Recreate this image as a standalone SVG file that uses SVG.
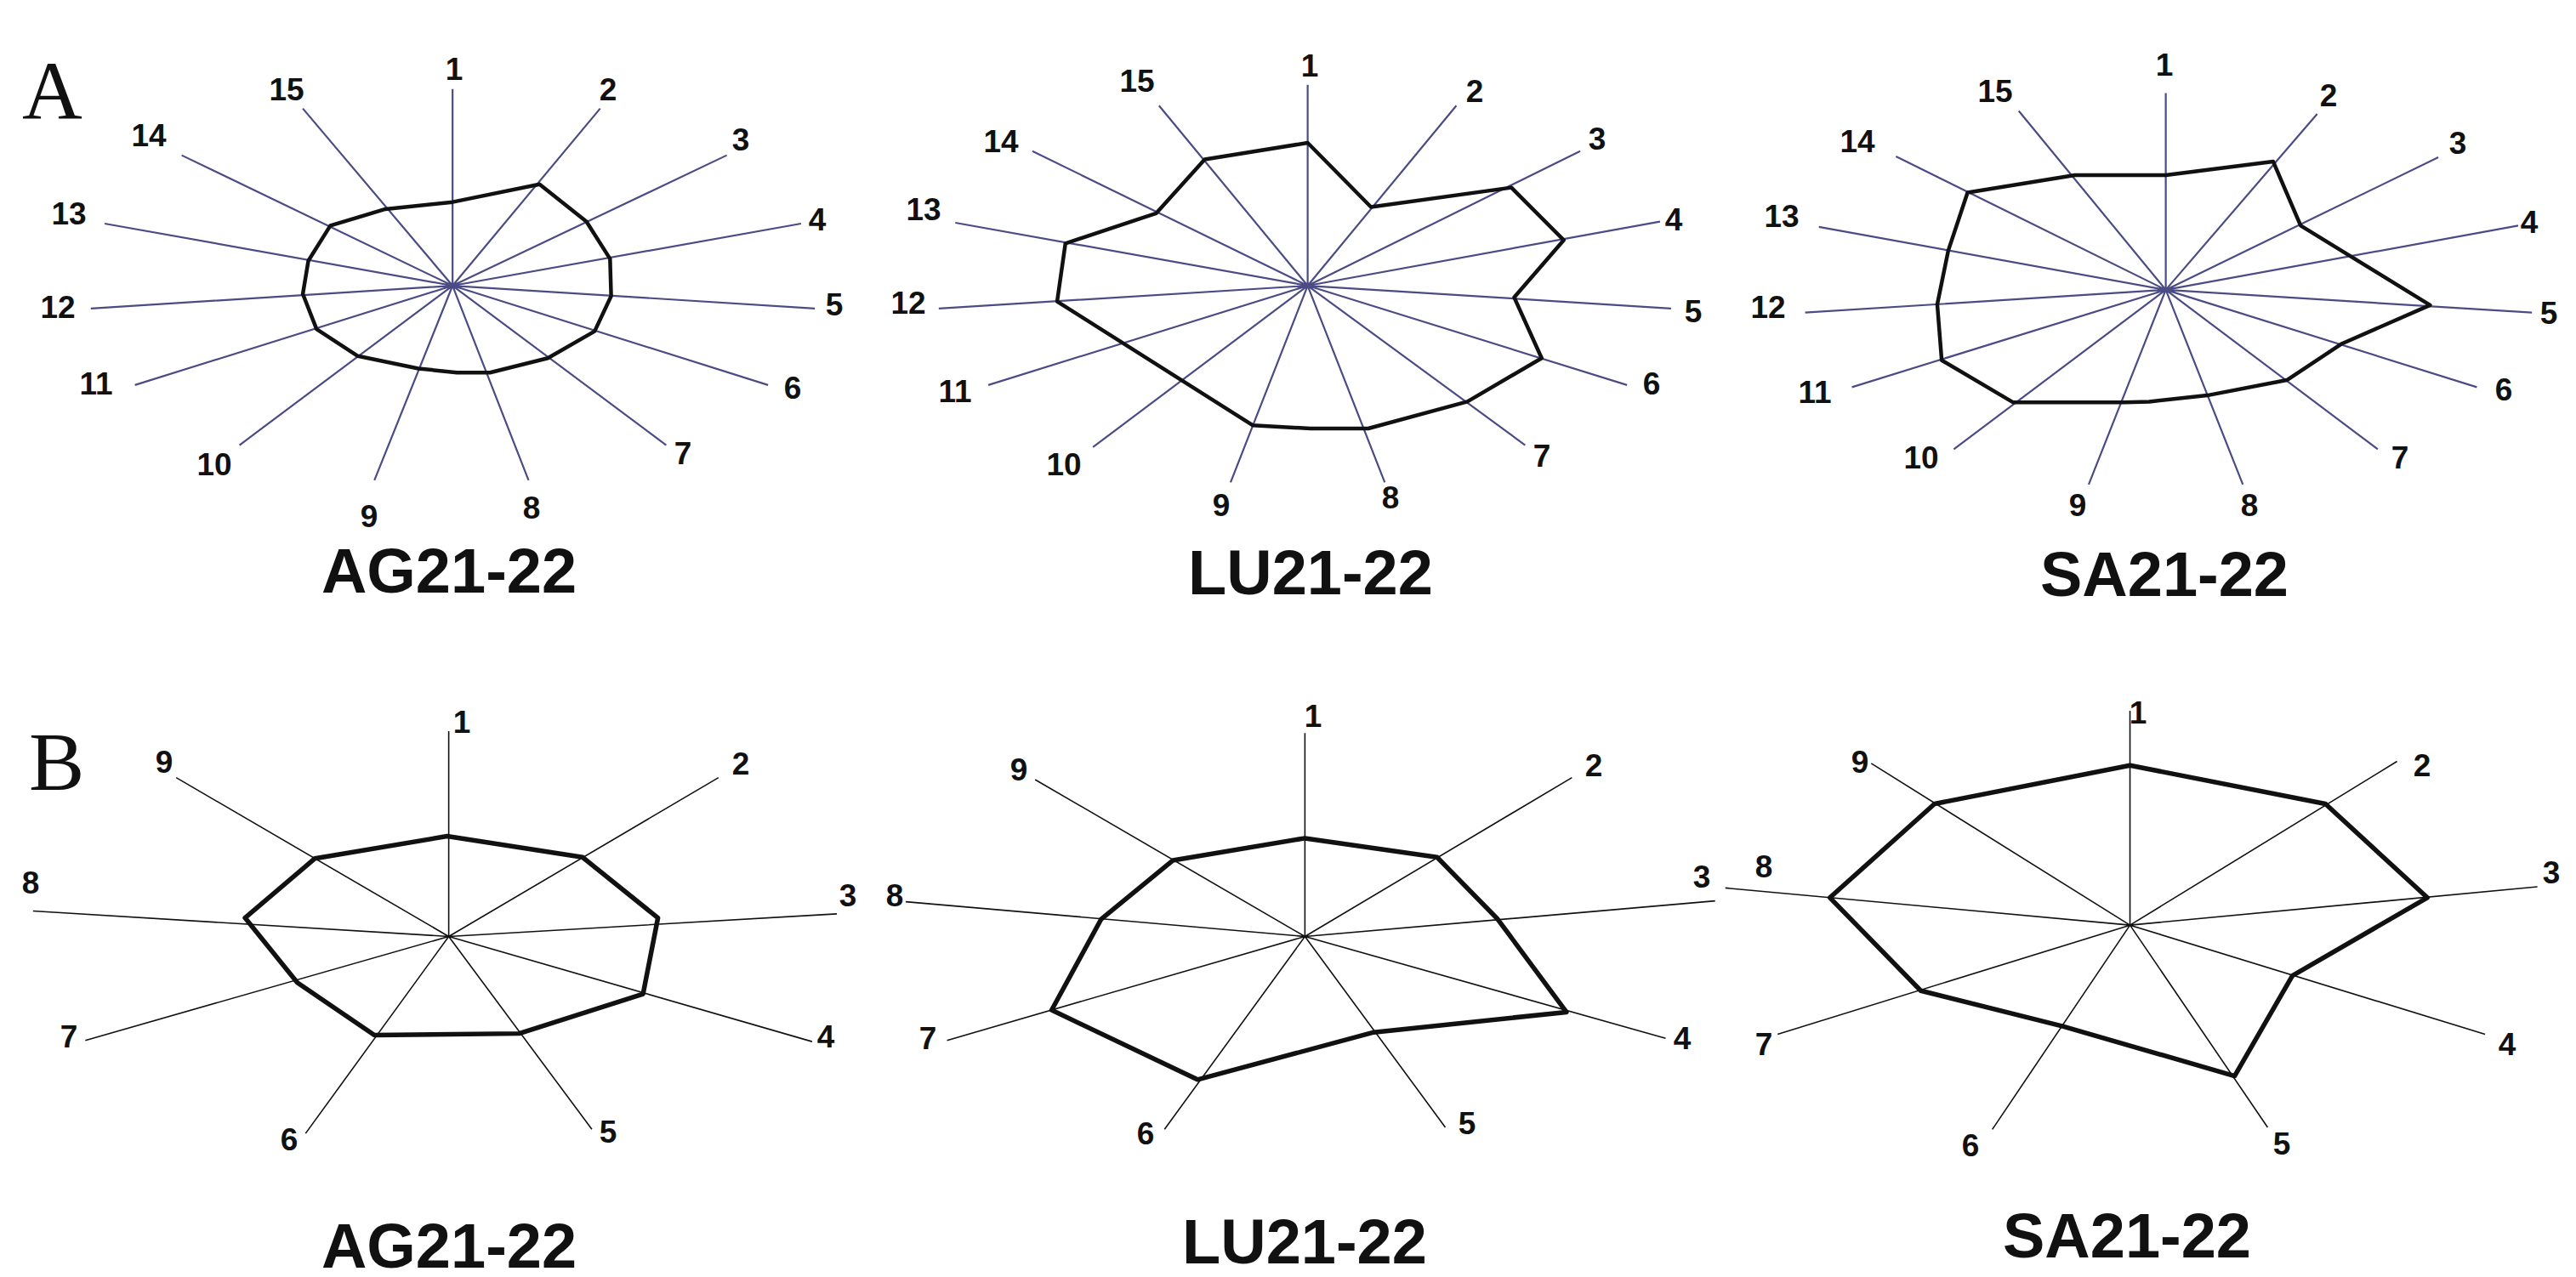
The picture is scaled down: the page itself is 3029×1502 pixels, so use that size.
<svg xmlns="http://www.w3.org/2000/svg" width="3029" height="1502" viewBox="0 0 3029 1502">
<style>
.sa{fill:none;stroke:#4b4b85;stroke-width:2.2;vector-effect:non-scaling-stroke}
.sb{fill:none;stroke:#111;stroke-width:1.6;vector-effect:non-scaling-stroke}
.pa{fill:none;stroke:#111;stroke-width:4.5;stroke-linejoin:round;vector-effect:non-scaling-stroke}
.pb{fill:none;stroke:#111;stroke-width:5.5;stroke-linejoin:round;vector-effect:non-scaling-stroke}
text{font-family:"Liberation Sans",Arial,sans-serif;font-weight:bold;fill:#111;text-anchor:middle}
.lb{font-size:37px}
.tt{font-size:74px}
.big{font-family:"Liberation Serif","Times New Roman",serif;font-weight:normal;text-anchor:start;font-size:98px}
</style>
<rect width="3029" height="1502" fill="#fff"/>
<text class="big" x="26" y="139">A</text>
<text class="big" x="34" y="929">B</text>

<g id="A1" transform="translate(0,0) scale(0.6474,0.487)">
<g class="connectors"><path class="sa" d="M822,690L822,215M822,690L1090,262M822,690L1320,375M822,690L1455,540M822,690L1480,745M822,690L1395,930M822,690L1210,1075M822,690L960,1160M822,690L680,1160M822,690L435,1075M822,690L245,930M822,690L165,745M822,690L190,540M822,690L330,375M822,690L550,262"/></g>
<polygon class="pa" points="822,488 980,445 1065,535 1108,625 1110,715 1080,800 995,865 890,900 830,900 760,890 650,860 575,795 550,710 560,630 600,545 700,505"/>
<g transform="scale(1.5446,2.0533)">
<text class="lb" x="534" y="94">1</text><text class="lb" x="715" y="118">2</text><text class="lb" x="871" y="177">3</text><text class="lb" x="961" y="271">4</text><text class="lb" x="981" y="371">5</text><text class="lb" x="932" y="469">6</text><text class="lb" x="803" y="546">7</text><text class="lb" x="625" y="610">8</text><text class="lb" x="434" y="620">9</text><text class="lb" x="252" y="559">10</text><text class="lb" x="113" y="464">11</text><text class="lb" x="68" y="374">12</text><text class="lb" x="81" y="264">13</text><text class="lb" x="175" y="172">14</text><text class="lb" x="337" y="118">15</text>
<text class="tt" x="528" y="697">AG21-22</text>
</g>
</g>

<g id="A2" transform="translate(1010,0) scale(0.6474,0.487)">
<g class="connectors"><path class="sa" d="M815,690L815,205M815,690L1085,255M815,690L1310,365M815,690L1455,535M815,690L1475,745M815,690L1395,930M815,690L1210,1075M815,690L955,1165M815,690L675,1165M815,690L425,1080M815,690L235,930M815,690L145,745M815,690L175,538M815,690L315,365M815,690L545,255"/></g>
<polygon class="pa" points="815,345 930,500 1185,453 1280,580 1190,718 1240,865 1105,970 925,1035 820,1035 715,1027 360,728 375,588 540,515 628,385"/>
<g transform="scale(1.5446,2.0533)">
<text class="lb" x="530" y="90">1</text><text class="lb" x="724" y="120">2</text><text class="lb" x="868" y="176">3</text><text class="lb" x="958" y="271">4</text><text class="lb" x="981" y="379">5</text><text class="lb" x="932" y="464">6</text><text class="lb" x="803" y="549">7</text><text class="lb" x="625" y="598">8</text><text class="lb" x="426" y="607">9</text><text class="lb" x="241" y="559">10</text><text class="lb" x="113" y="473">11</text><text class="lb" x="58" y="369">12</text><text class="lb" x="76" y="259">13</text><text class="lb" x="167" y="179">14</text><text class="lb" x="327" y="108">15</text>
<text class="tt" x="531" y="699">LU21-22</text>
</g>
</g>

<g id="A3" transform="translate(2019,0) scale(0.6474,0.487)">
<g class="connectors"><path class="sa" d="M815,700L815,225M815,700L1090,275M815,700L1310,380M815,700L1455,545M815,700L1480,755M815,700L1380,935M815,700L1200,1085M815,700L955,1170M815,700L675,1170M815,700L430,1085M815,700L245,935M815,700L160,755M815,700L185,548M815,700L325,378M815,700L548,268"/></g>
<polygon class="pa" points="815,423 1010,390 1060,545 1295,737 1135,830 1035,918 890,955 785,970 740,972 538,972 408,870 400,735 420,605 455,465 650,423"/>
<g transform="scale(1.5446,2.0533)">
<text class="lb" x="526" y="89">1</text><text class="lb" x="719" y="125">2</text><text class="lb" x="871" y="181">3</text><text class="lb" x="955" y="274">4</text><text class="lb" x="978" y="381">5</text><text class="lb" x="925" y="471">6</text><text class="lb" x="803" y="551">7</text><text class="lb" x="626" y="607">8</text><text class="lb" x="424" y="607">9</text><text class="lb" x="240" y="551">10</text><text class="lb" x="115" y="474">11</text><text class="lb" x="60" y="374">12</text><text class="lb" x="76" y="267">13</text><text class="lb" x="165" y="179">14</text><text class="lb" x="327" y="120">15</text>
<text class="tt" x="526" y="701">SA21-22</text>
</g>
</g>

<g id="B1" transform="translate(0,760) scale(0.6474,0.4756)">
<g class="connectors"><path class="sb" d="M815,718L815,210M815,718L1305,325M815,718L1520,662M815,718L1475,978M815,718L1075,1195M815,718L555,1205M815,718L155,975M815,718L60,655M815,718L320,325"/></g>
<polygon class="pb" points="812,470 1058,522 1195,672 1168,860 943,958 680,962 540,832 445,672 572,525"/>
<g transform="scale(1.5446,2.1026)">
<text class="lb" x="543" y="102">1</text><text class="lb" x="871" y="151">2</text><text class="lb" x="997" y="306">3</text><text class="lb" x="971" y="472">4</text><text class="lb" x="715" y="584">5</text><text class="lb" x="340" y="593">6</text><text class="lb" x="81" y="472">7</text><text class="lb" x="36" y="291">8</text><text class="lb" x="193" y="149">9</text>
<text class="tt" x="528" y="731">AG21-22</text>
</g>
</g>

<g id="B2" transform="translate(1010,760) scale(0.6474,0.4756)">
<g class="connectors"><path class="sb" d="M810,718L810,215M810,718L1295,325M810,718L1555,630M810,718L1465,970M810,718L1065,1190M810,718L555,1195M810,718L160,975M810,718L85,632M810,718L320,330"/></g>
<polygon class="pb" points="810,475 1050,522 1160,675 1285,905 935,955 615,1072 350,900 440,675 570,530"/>
<g transform="scale(1.5446,2.1026)">
<text class="lb" x="534" y="95">1</text><text class="lb" x="864" y="153">2</text><text class="lb" x="991" y="284">3</text><text class="lb" x="968" y="474">4</text><text class="lb" x="715" y="574">5</text><text class="lb" x="337" y="586">6</text><text class="lb" x="81" y="474">7</text><text class="lb" x="42" y="306">8</text><text class="lb" x="188" y="158">9</text>
<text class="tt" x="524" y="726">LU21-22</text>
</g>
</g>

<g id="B3" transform="translate(2019,760) scale(0.6474,0.4756)">
<g class="connectors"><path class="sb" d="M750,690L750,160M750,690L1235,285M750,690L1490,595M750,690L1395,960M750,690L1000,1190M750,690L500,1195M750,690L110,960M750,690L15,598M750,690L280,290"/></g>
<polygon class="pb" points="750,295 1105,390 1290,622 1045,815 940,1063 628,940 370,852 205,622 395,390"/>
<g transform="scale(1.5446,2.1026)">
<text class="lb" x="495" y="91">1</text><text class="lb" x="829" y="153">2</text><text class="lb" x="981" y="279">3</text><text class="lb" x="929" y="481">4</text><text class="lb" x="664" y="598">5</text><text class="lb" x="298" y="600">6</text><text class="lb" x="55" y="481">7</text><text class="lb" x="55" y="272">8</text><text class="lb" x="168" y="149">9</text>
<text class="tt" x="482" y="719">SA21-22</text>
</g>
</g>
</svg>
